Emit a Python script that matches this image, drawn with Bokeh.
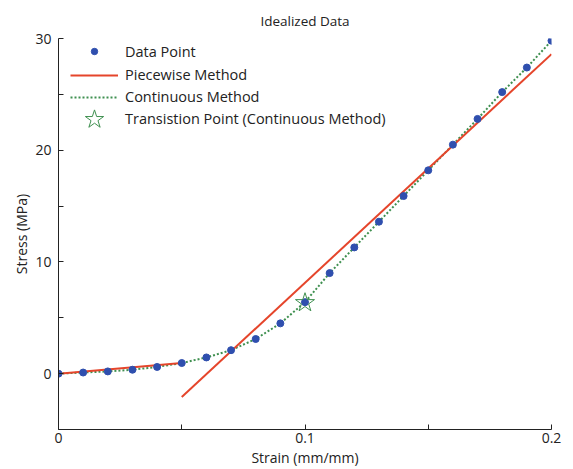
from bokeh.plotting import figure
from bokeh.models import FixedTicker, Legend, LegendItem
from bokeh.embed import file_html
from bokeh.resources import INLINE

# data
strain = [0.00, 0.01, 0.02, 0.03, 0.04, 0.05, 0.06, 0.07, 0.08, 0.09, 0.10,
          0.11, 0.12, 0.13, 0.14, 0.15, 0.16, 0.17, 0.18, 0.19, 0.20]
stress = [0.0, 0.1, 0.2, 0.35, 0.6, 0.95, 1.45, 2.1, 3.1, 4.5, 6.4,
          9.0, 11.3, 13.6, 15.9, 18.2, 20.5, 22.8, 25.2, 27.4, 29.8]
piece1_x = [0.0, 0.05]
piece1_y = [0.0, 0.95]
piece2_x = [0.05, 0.2]
piece2_y = [-2.1, 28.6]
trans_x = [0.1]
trans_y = [6.35]
x_ticks = [0.0, 0.05, 0.1, 0.15, 0.2]
y_ticks = [-5, 0, 5, 10, 15, 20, 25, 30]
legend_labels = ["Data Point", "Piecewise Method", "Continuous Method",
                 "Transistion Point (Continuous Method)"]

FONT = "Open Sans"
FS = "14px"
W, H = 573, 469
FL, FR, FT, FB = 58, 551, 38, 429   # frame edges in figure pixels
p = figure(width=W, height=H, output_backend="svg", toolbar_location=None,
           x_range=(0, 0.2), y_range=(-5, 30),
           min_border_left=FL, min_border_right=W - FR,
           min_border_top=FT, min_border_bottom=H - FB,
           title="Idealized Data")
p.title.align = "center"
p.title.text_font = FONT
p.title.text_font_size = "13.5px"
p.title.text_font_style = "normal"
p.title.text_color = "#222222"
p.title.offset = 0
p.title.standoff = 17
p.outline_line_color = None
p.xgrid.visible = False
p.ygrid.visible = False

for ax in (p.xaxis[0], p.yaxis[0]):
    ax.major_tick_in = 5
    ax.major_tick_out = 0
    ax.minor_tick_in = 0
    ax.minor_tick_out = 0
    ax.axis_line_color = "#222222"
    ax.major_tick_line_color = "#222222"
    ax.major_label_text_font = FONT
    ax.major_label_text_font_size = FS
    ax.major_label_text_color = "#222222"
    ax.axis_label_text_font = FONT
    ax.axis_label_text_font_size = FS
    ax.axis_label_text_font_style = "normal"
    ax.axis_label_text_color = "#222222"

p.xaxis[0].ticker = FixedTicker(ticks=x_ticks)
p.xaxis[0].major_label_overrides = {0: "0", 0.05: "", 0.1: "0.1", 0.15: "", 0.2: "0.2"}
p.xaxis[0].axis_label = "Strain (mm/mm)"
p.xaxis[0].major_label_standoff = 3
p.xaxis[0].axis_label_standoff = 2
p.yaxis[0].ticker = FixedTicker(ticks=y_ticks)
p.yaxis[0].major_label_overrides = {-5: "", 0: "0", 5: "", 10: "10", 15: "", 20: "20", 25: "", 30: "30"}
p.yaxis[0].axis_label = "Stress (MPa)"
p.yaxis[0].major_label_standoff = 7
p.yaxis[0].axis_label_standoff = 1

RED = "#e5452b"
GREEN = "#3f9050"
BLUE = "#2f4fae"

r_cont = p.line(strain, stress, line_color=GREEN, line_width=2, line_dash="2 2")
r_p1 = p.line(piece1_x, piece1_y, line_color=RED, line_width=2)
r_p2 = p.line(piece2_x, piece2_y, line_color=RED, line_width=2)
r_pts = p.scatter(strain, stress, size=7, fill_color=BLUE, line_color=BLUE)
r_star = p.scatter(trans_x, trans_y, marker="star", size=20, fill_color=None,
                   line_color=GREEN, line_width=1)

# one legend per row so that each marker gets its own size
frame_h = FB - FT
rows = [(r_pts, 14.5, 16), (r_p1, 36.5, 20), (r_cont, 58.5, 20), (r_star, 80.5, 48)]
for lab, (rend, center, gh) in zip(legend_labels, rows):
    lg = Legend(items=[LegendItem(label=lab, renderers=[rend])])
    lg.location = (12, frame_h - center - gh / 2)
    lg.margin = 0
    lg.padding = 0
    lg.glyph_width = 48
    lg.glyph_height = gh
    lg.label_height = gh
    lg.label_standoff = 7
    lg.label_text_font = FONT
    lg.label_text_font_size = "14.5px"
    lg.label_text_color = "#222222"
    lg.border_line_color = None
    lg.background_fill_alpha = 0
    p.add_layout(lg)

open("out.html", "w").write(file_html(p, INLINE))
